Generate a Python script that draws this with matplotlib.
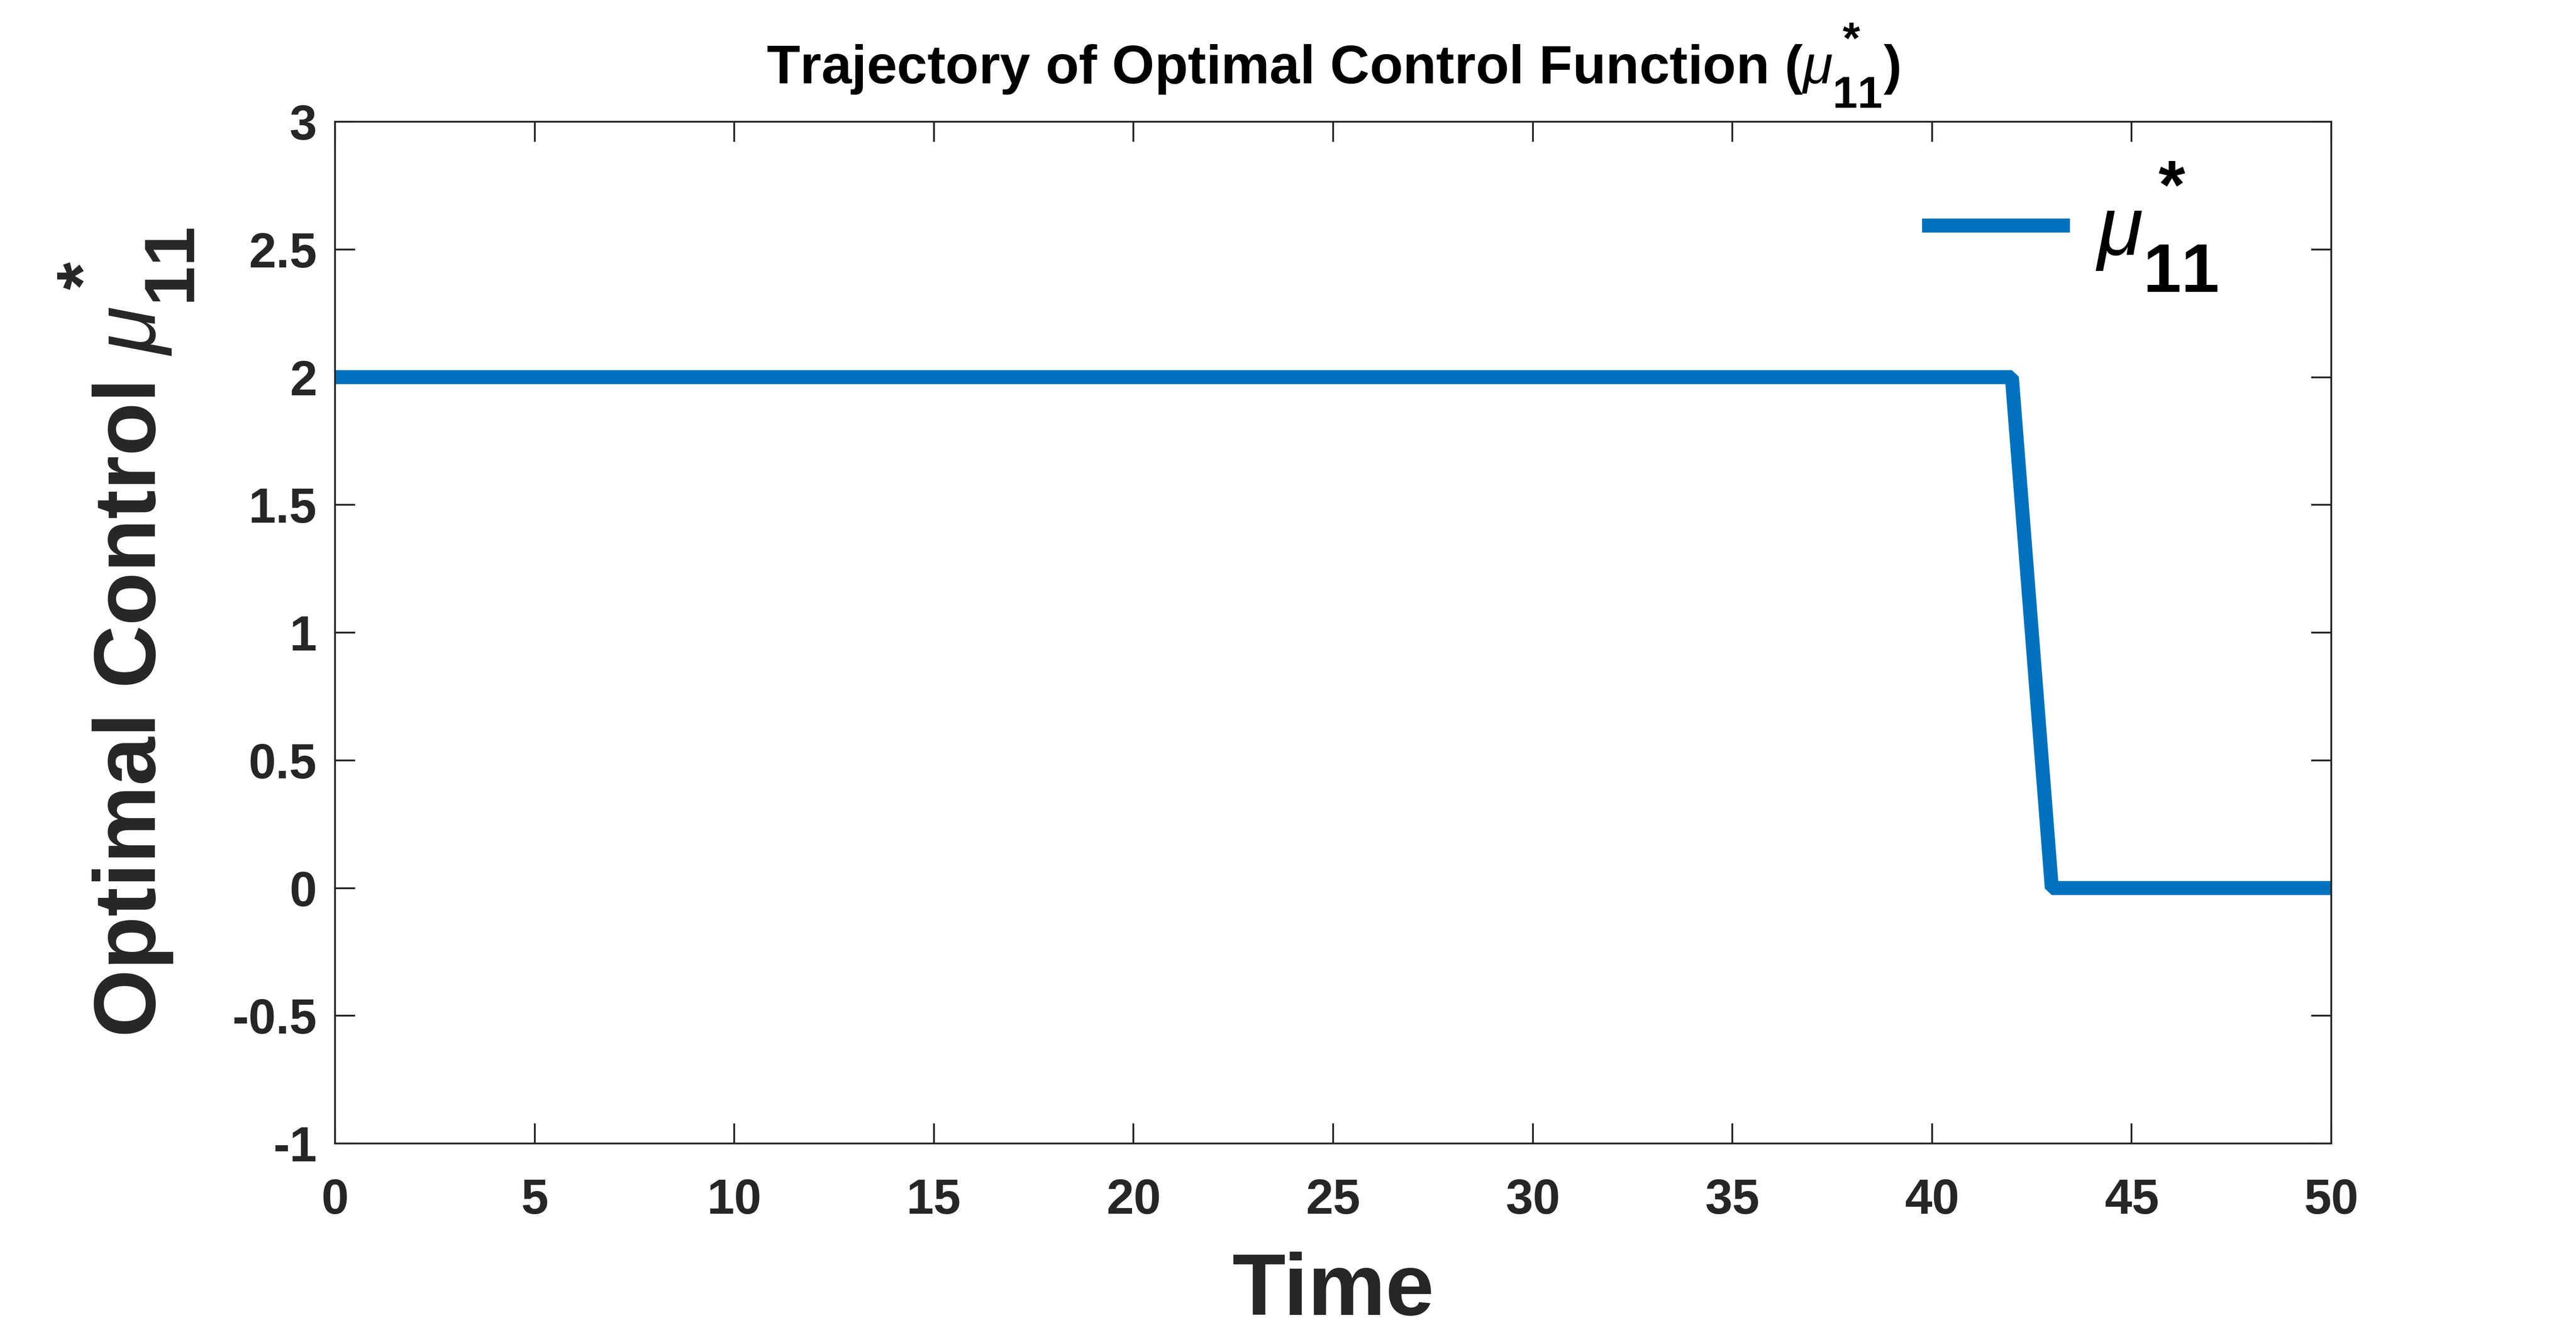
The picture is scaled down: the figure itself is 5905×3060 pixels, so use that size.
import matplotlib
matplotlib.use("Agg")
import matplotlib.pyplot as plt
import matplotlib._mathtext as mt

# MATLAB setzt Indizes größer und weiter auseinander als matplotlib
mt.SHRINK_FACTOR = 0.82
mt.FontConstantsBase.sup1 = 1.05
mt.FontConstantsBase.sub2 = 0.85

# Daten der optimalen Steuerung
zeit = [0, 42, 43, 50]
mu11 = [2, 2, 0, 0]

xticks = [0, 5, 10, 15, 20, 25, 30, 35, 40, 45, 50]
yticks = [-1, -0.5, 0, 0.5, 1, 1.5, 2, 2.5, 3]
yticklabels = ["-1", "-0.5", "0", "0.5", "1", "1.5", "2", "2.5", "3"]

plt.rcParams['font.family'] = ['Liberation Sans', 'DejaVu Sans']
plt.rcParams['font.weight'] = 'bold'
plt.rcParams['mathtext.fontset'] = 'custom'
plt.rcParams['mathtext.rm'] = 'Liberation Sans:weight=bold'
plt.rcParams['mathtext.bf'] = 'Liberation Sans:weight=bold'
plt.rcParams['mathtext.it'] = 'Liberation Sans:style=italic:weight=normal'

dunkel = '#262626'

fig = plt.figure(figsize=(5905 / 300, 3060 / 300), dpi=300)
ax = fig.add_axes([768 / 5905, 1 - 2621 / 3060, (5344 - 768) / 5905, (2621 - 279) / 3060])

ax.plot(zeit, mu11, color='#0072BD', linewidth=7.7, label=r'$\mu^*_{11}$',
        solid_joinstyle='bevel', solid_capstyle='butt')

ax.set_xlim(0, 50)
ax.set_ylim(-1, 3)
ax.set_xticks(xticks)
ax.set_yticks(yticks)
ax.set_yticklabels(yticklabels)

for s in ax.spines.values():
    s.set_color(dunkel)
    s.set_linewidth(1.0)
ax.tick_params(direction='in', length=11, width=1.0, colors=dunkel,
               top=True, right=True, labelsize=27)
ax.tick_params(axis='x', pad=19)
ax.tick_params(axis='y', pad=10)
for lab in ax.get_xticklabels() + ax.get_yticklabels():
    lab.set_fontweight('bold')

ax.set_xlabel('Time', fontsize=48, fontweight='bold', color=dunkel, labelpad=15)
ax.set_ylabel(r'Optimal Control $\mu^*_{11}$', fontsize=48, fontweight='bold',
              color=dunkel, labelpad=20)
ax.set_title(r'Trajectory of Optimal Control Function ($\mu^*_{11}$)',
             fontsize=30, fontweight='bold', color='black', pad=21)

leg = ax.legend(loc='center left', fontsize=46, frameon=False, handlelength=1.77,
                handletextpad=0.3, borderpad=0, borderaxespad=0,
                bbox_to_anchor=(0.795, 0.897))

fig.savefig('out.png', dpi=300, facecolor='white')
